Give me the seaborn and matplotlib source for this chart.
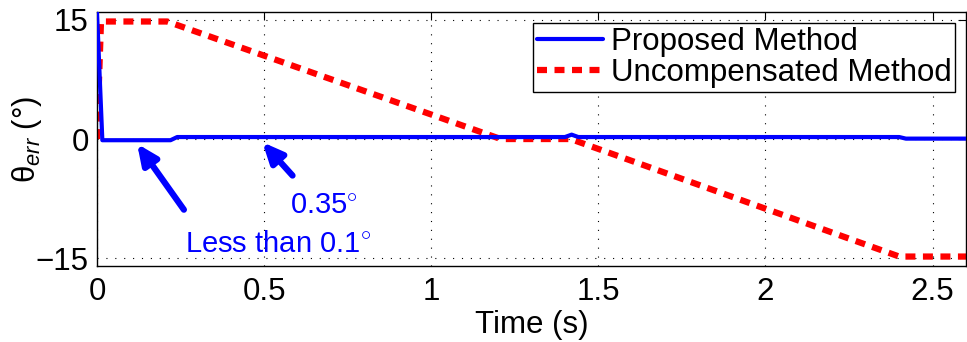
import matplotlib
matplotlib.use("Agg")
import matplotlib.pyplot as plt
import seaborn as sns
import pandas as pd

# Data
prop_t = [0.0, 0.016, 0.22, 0.24, 1.40, 1.42, 1.44, 2.40, 2.42, 2.60]
prop_y = [16.0, -0.15, -0.15, 0.25, 0.25, 0.55, 0.25, 0.25, 0.05, 0.05]
unc_t = [0.0, 0.012, 0.21, 1.208, 1.417, 2.40, 2.60]
unc_y = [0.0, 14.8, 14.8, 0.0, 0.0, -14.8, -14.8]
xticks = [0, 0.5, 1, 1.5, 2, 2.5]
xticklabels = ["0", "0.5", "1", "1.5", "2", "2.5"]
yticks = [-15, 0, 15]
yticklabels = ["\u221215", "0", "15"]
series_names = ["Proposed Method", "Uncompensated Method"]

sns.set_theme(style="white")
plt.rcParams["font.family"] = ["Liberation Sans", "DejaVu Sans"]
plt.rcParams["mathtext.fontset"] = "custom"
plt.rcParams["mathtext.rm"] = "Liberation Sans"
plt.rcParams["mathtext.it"] = "Liberation Sans:italic"
plt.rcParams["text.color"] = "black"
plt.rcParams["axes.labelcolor"] = "black"
plt.rcParams["xtick.color"] = "black"
plt.rcParams["ytick.color"] = "black"

FS = 22.5

fig = plt.figure(figsize=(9.67, 3.42), dpi=100)
ax = fig.add_axes([0.1003, 0.222, 0.8987, 0.743])

df_p = pd.DataFrame({"t": prop_t, "y": prop_y})
df_u = pd.DataFrame({"t": unc_t, "y": unc_y})

sns.lineplot(data=df_p, x="t", y="y", ax=ax, color="#0000ff", lw=3.0,
             label=series_names[0], sort=False, estimator=None, zorder=3)
sns.lineplot(data=df_u, x="t", y="y", ax=ax, color="#ff0000", lw=4.5,
             label=series_names[1], sort=False, estimator=None, zorder=2)
ax.lines[1].set_dashes([1.6, 1.2])

ax.set_xlim(0, 2.6)
ax.set_ylim(-16, 16)
ax.set_xticks(xticks)
ax.set_xticklabels(xticklabels)
ax.set_yticks(yticks)
ax.set_yticklabels(yticklabels)
ax.tick_params(direction="in", length=6, width=0.8, labelsize=FS, top=True,
               right=True, colors="black")
ax.tick_params(axis="x", pad=8)
ax.tick_params(axis="y", pad=6)
ax.grid(True, color="black", linestyle=(0, (1, 7)), lw=0.8)
for s in ax.spines.values():
    s.set_color("black")
    s.set_linewidth(1.0)

ax.set_xlabel("Time (s)", fontsize=FS, labelpad=2)
ax.set_ylabel("\u03b8$_{\\mathit{err}}$ (\u00b0)", fontsize=FS, labelpad=-6)

leg = ax.legend(loc="upper right", fontsize=FS, frameon=True, fancybox=False,
                framealpha=1, edgecolor="black", handlelength=2.1,
                borderpad=0.12, labelspacing=0.05, handletextpad=0.25,
                borderaxespad=0.35)
leg.get_frame().set_linewidth(1.0)

arrow_style = dict(arrowstyle="-|>,head_length=1.0,head_width=0.45",
                   color="#0000ff", lw=4.5, shrinkA=0, shrinkB=0)
ax.annotate("", xy=(0.12, -0.6), xytext=(0.26, -8.9), arrowprops=arrow_style)
ax.annotate("", xy=(0.495, -0.4), xytext=(0.585, -4.6), arrowprops=arrow_style)
ax.text(0.577, -9.5, "0.35$^{\\circ}$", color="#0000ff", fontsize=21)
ax.text(0.262, -14.2, "Less than 0.1$^{\\circ}$", color="#0000ff", fontsize=21)

fig.savefig("out.png", dpi=100)
